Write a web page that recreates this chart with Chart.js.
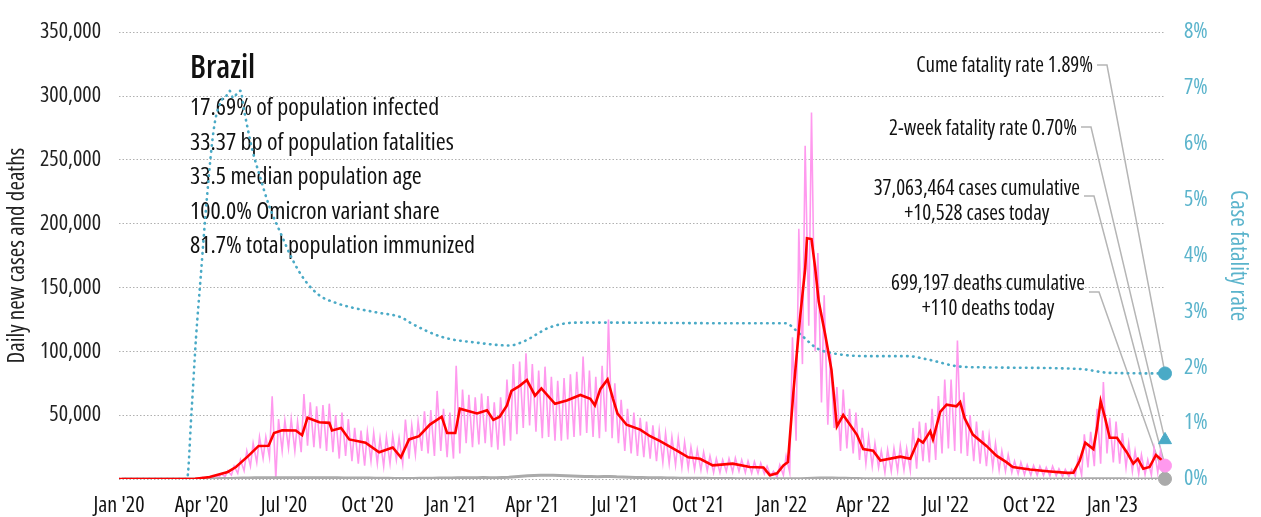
<!DOCTYPE html>
<html>
<head>
<meta charset="utf-8">
<title>Brazil</title>
<script src="https://cdn.jsdelivr.net/npm/chart.js@4.4.1/dist/chart.umd.min.js"></script>
<style>
  html, body { margin: 0; padding: 0; background: #fff; }
  #wrap { width: 1261px; height: 517px; }
</style>
</head>
<body>
<div id="wrap"><canvas id="chart" width="1261" height="517"></canvas></div>
<script>
// ---- data ----
const startDate = '2020-01-01';
const lastDate = '2023-02-28';

const tickDates = ['2020-01-01', '2020-04-01', '2020-07-01', '2020-10-01', '2021-01-01', '2021-04-01',
  '2021-07-01', '2021-10-01', '2022-01-01', '2022-04-01', '2022-07-01', '2022-10-01', '2023-01-01'];
const tickLabels = ["Jan '20", "Apr '20", "Jul '20", "Oct '20", "Jan '21", "Apr '21",
  "Jul '21", "Oct '21", "Jan '22", "Apr '22", "Jul '22", "Oct '22", "Jan '23"];

// daily new cases, one weekly high (Thu) and one weekly low (Mon) per week
const caseHighs = [
  0, 0, 0, 0, 0, 0, 0, 0, 0, 0,
  0, 100, 350, 1200, 1900, 2300, 4000, 6500, 10000, 15000,
  22000, 28000, 33000, 33000, 64800, 47000, 46000, 47000, 45000, 66600,
  60000, 57000, 58000, 59000, 50000, 52000, 47000, 40000, 38000, 37000,
  36000, 32000, 33000, 34000, 32000, 46500, 42000, 45000, 53000, 54000,
  69000, 55000, 52000, 88700, 70000, 66000, 64000, 67000, 65000, 60000,
  64000, 78000, 90000, 92000, 98400, 90000, 85000, 88000, 80000, 77000,
  79000, 82000, 84000, 96000, 85000, 80000, 88700, 125000, 75000, 62000,
  55000, 52000, 48000, 45000, 42000, 38000, 36000, 33000, 32000, 29000,
  25000, 23000, 21000, 18000, 16000, 15000, 16000, 16500, 15000, 14000,
  13500, 12500, 10000, 6000, 11000, 18000, 111000, 196000, 261000, 287000,
  177000, 144000, 98000, 72000, 70000, 55000, 52000, 40000, 33000, 28000,
  22000, 23000, 24000, 26000, 24000, 40000, 45000, 44000, 55000, 65000,
  78000, 78000, 108500, 68000, 50000, 45000, 38000, 34000, 28000, 22000,
  19000, 14000, 13000, 11000, 10500, 10000, 9000, 10000, 8000, 7500,
  7500, 16000, 35000, 37000, 55000, 76000, 48000, 45000, 36000, 28000,
  22000, 19000, 15000, 24000, 22000
];
const caseLows = [
  0, 0, 0, 0, 0, 0, 0, 0, 0, 0,
  0, 0, 100, 500, 900, 1100, 1800, 3000, 4500, 6500,
  10000, 13000, 16000, 17000, 0, 22000, 24000, 22000, 21000, 26000,
  25000, 24000, 22000, 21000, 16000, 18000, 14000, 12000, 10500, 14000,
  12000, 10000, 12000, 15000, 12000, 16000, 19000, 22000, 20000, 18000,
  22000, 17000, 16000, 20000, 28000, 25000, 27000, 28000, 25000, 23000,
  26000, 30000, 35000, 40000, 42000, 37000, 32000, 33000, 30000, 30000,
  31000, 33000, 34000, 36000, 33000, 32000, 37000, 32000, 28000, 22000,
  20000, 18000, 17000, 16000, 14000, 13000, 12000, 11000, 9000, 8500,
  7500, 7000, 6500, 5000, 5000, 6000, 5500, 6000, 5000, 4500,
  4500, 4000, 2500, 1500, 3000, 5000, 30000, 90000, 120000, 100000,
  60000, 42600, 40000, 22000, 24000, 20000, 15000, 12000, 10000, 9000,
  5000, 6000, 6500, 7000, 6500, 8000, 14000, 13000, 15000, 20000,
  24000, 22000, 20000, 18000, 14000, 12000, 10000, 9000, 7000, 6000,
  5000, 4000, 3500, 3000, 3000, 2800, 2500, 2500, 2000, 2000,
  2200, 3000, 9000, 10000, 12000, 20000, 13000, 12000, 9000, 6000,
  4000, 3500, 3000, 5000, 6000
];

// 7-day average of new cases (day since Jan 1 2020, value)
const avgDays = [0, 70, 84, 91, 100, 110, 120, 129, 143, 154, 165, 171, 180, 195, 202, 208, 221, 232, 235, 245,
  254, 272, 287, 302, 311, 320, 331, 343, 356, 362, 371, 376, 395, 406, 413, 420, 428, 433, 442, 450,
  459, 466, 481, 494, 509, 520, 525, 531, 539, 545, 550, 560, 575, 586, 597, 616, 628, 641, 655, 677,
  696, 711, 718, 726, 733, 738, 744, 751, 757, 759, 764, 768, 772, 779, 786, 792, 799, 814, 821, 832,
  840, 862, 873, 882, 887, 895, 898, 906, 913, 924, 928, 933, 942, 957, 968, 979, 986, 1005, 1024, 1046,
  1053, 1060, 1066, 1075, 1079, 1083, 1088, 1093, 1101, 1112, 1119, 1124, 1130, 1137, 1144, 1154];
const avgCases = [0, 0, 200, 800, 1500, 3500, 5500, 9400, 18300, 25900, 26000, 36000, 38100, 38000, 34300, 48000, 44500, 44000, 38000, 40000,
  31000, 28500, 20900, 24700, 17000, 31000, 33500, 42600, 48800, 36000, 36000, 55100, 51300, 53900, 46300, 48800, 57700, 69100, 73000, 77500,
  65300, 70900, 58900, 61500, 65800, 62800, 57700, 70400, 78000, 62800, 51300, 42500, 38700, 33500, 29700, 22100, 17000, 15800, 10700, 12000,
  9400, 9000, 3000, 4500, 10700, 13200, 67900, 123800, 164500, 188600, 188000, 165700, 139000, 113600, 85600, 41200, 50100, 34800, 23400, 22100,
  14500, 17500, 15800, 31000, 28500, 37400, 31000, 52600, 58200, 57000, 60200, 47500, 34800, 25900, 18300, 13200, 9400, 7400, 6100, 4800,
  5000, 14500, 28500, 23400, 39900, 61000, 47500, 32300, 32300, 20800, 12000, 15800, 8100, 9400, 18800, 12500];

// daily deaths, weekly
const deathsWeekly = [
  0, 0, 0, 0, 0, 0, 0, 0, 0, 0, 0,
  5, 30, 80, 150, 200, 350, 450, 600, 700, 800, 900, 1000, 1000,
  1050, 1000, 1050, 1000, 1050, 1000, 1050, 1000, 1000, 950,
  900, 850, 850, 800, 750,
  700, 650, 600, 500, 450, 400,
  350, 400, 500, 550,
  650, 700, 750, 750,
  1000, 1050, 1050, 1050, 1100,
  1050, 1050, 1150, 1300,
  1700, 2100, 2600, 2800, 3000,
  3000, 2900, 2800, 2500,
  2300, 2100, 2000, 1900, 1850,
  1900, 2000, 1700, 1600,
  1400, 1250, 1150, 1050, 950,
  900, 800, 700, 650,
  600, 550, 520, 500,
  450, 400, 360, 330,
  280, 250, 230, 220, 200,
  120, 100, 100, 110,
  150, 250, 450, 600,
  800, 850, 800, 650,
  500, 400, 300, 250,
  200, 150, 120, 110,
  110, 110, 110, 120, 130,
  150, 180, 220, 250,
  270, 280, 250, 230,
  200, 180, 160, 150, 140,
  120, 100, 80, 70,
  60, 55, 50, 50,
  50, 45, 60, 90,
  110, 130, 140, 150,
  140, 120, 100, 90,
  80, 70, 70, 60, 60
];

// cumulative case fatality rate, percent
const cfrDays = [0, 75, 80, 85, 90, 97, 105, 114, 118, 122, 126, 130, 134, 138, 147, 156, 165, 180, 191, 205,
  221, 240, 257, 285, 312, 321, 357, 395, 431, 446, 476, 505, 542, 652, 735, 751, 770, 788, 825, 869,
  895, 924, 950, 1060, 1093, 1154];
const cfrValues = [0, 0, 1.2, 2.54, 3.59, 5.04, 6.31, 6.8, 6.85, 6.95, 6.82, 6.9, 6.95, 6.6, 5.9, 5.39, 4.92, 4.34, 3.94, 3.56,
  3.29, 3.15, 3.07, 2.98, 2.89, 2.8, 2.54, 2.44, 2.39, 2.46, 2.72, 2.8, 2.8, 2.79, 2.79, 2.6, 2.34, 2.25, 2.2, 2.2,
  2.13, 2.02, 2.0, 1.97, 1.9, 1.89];

const casesToday = 10528;
const deathsToday = 110;
const cumeFatality = 1.89;
const twoWeekFatality = 0.70;

const countryName = 'Brazil';
const statLines = [
  '17.69% of population infected',
  '33.37 bp of population fatalities',
  '33.5 median population age',
  '100.0% Omicron variant share',
  '81.7% total population immunized'
];
const rightLabels = [
  ['Cume fatality rate 1.89%'],
  ['2-week fatality rate 0.70%'],
  ['37,063,464 cases cumulative', '+10,528 cases today'],
  ['699,197 deaths cumulative', '+110 deaths today']
];

// ---- build ----
const FONT = "'Open Sans', 'Roboto', sans-serif";
const DAY = 86400000;
const dayOf = d => Math.round((Date.parse(d) - Date.parse(startDate)) / DAY);
const lastDay = dayOf(lastDate);
const tickDays = tickDates.map(dayOf);

const pinkPoints = [];
caseHighs.forEach((h, w) => {
  pinkPoints.push({ x: 7 * w + 1, y: h });
  pinkPoints.push({ x: 7 * w + 5, y: caseLows[w] });
});
pinkPoints.push({ x: lastDay, y: casesToday });

const avgPoints = avgDays.map((d, i) => ({ x: d, y: avgCases[i] }));
const deathPoints = deathsWeekly.map((v, w) => ({ x: 7 * w + 3, y: v }));
deathPoints.push({ x: lastDay, y: deathsToday });
const cfrPoints = cfrDays.map((d, i) => ({ x: d, y: cfrValues[i] }));

const TEAL = '#4aaac6';
const PINK = '#ff99ee';
const GRAY = '#aaaaaa';

// the chart uses a condensed face everywhere
const canvas = document.getElementById('chart');
const ctx = canvas.getContext('2d');
const fontDesc = Object.getOwnPropertyDescriptor(CanvasRenderingContext2D.prototype, 'font');
Object.defineProperty(ctx, 'font', {
  get() { return fontDesc.get.call(this); },
  set(v) { fontDesc.set.call(this, v); this.fontStretch = 'condensed'; }
});

// text blocks and leader lines
const annotations = {
  id: 'annotations',
  beforeDatasetsDraw(chart) {
    const c = chart.ctx;
    const x = chart.scales.x, y = chart.scales.y, y2 = chart.scales.y2;
    c.save();
    c.fillStyle = '#111';
    c.textAlign = 'left';
    c.textBaseline = 'alphabetic';
    c.font = '600 32px ' + FONT;
    c.fillText(countryName, 190, 78);
    c.font = '24px ' + FONT;
    statLines.forEach((t, i) => c.fillText(t, 190, 115 + i * 34.5));

    const endX = x.getPixelForValue(lastDay);
    const targets = [
      y2.getPixelForValue(cumeFatality),
      y2.getPixelForValue(twoWeekFatality),
      y.getPixelForValue(casesToday),
      y.getPixelForValue(deathsToday)
    ];
    const spots = [
      { right: 1093, base: 72, lineY: 65 },
      { right: 1077, base: 135, lineY: 127 },
      { right: 1080, base: 195, lineY: 196 },
      { right: 1085, base: 290, lineY: 292 }
    ];
    c.font = '21px ' + FONT;
    rightLabels.forEach((lines, i) => {
      const s = spots[i];
      const w0 = c.measureText(lines[0]).width;
      const cx = s.right - w0 / 2;
      c.textAlign = 'center';
      lines.forEach((t, j) => c.fillText(t, cx, s.base + j * 25));
      c.strokeStyle = '#b5b5b5';
      c.lineWidth = 1.5;
      c.beginPath();
      c.moveTo(s.right + 4, s.lineY);
      c.lineTo(s.right + 14, s.lineY);
      c.lineTo(endX, targets[i]);
      c.stroke();
    });
    c.restore();
  }
};

new Chart(ctx, {
  type: 'line',
  data: {
    datasets: [
      { data: [{ x: lastDay, y: cumeFatality }], yAxisID: 'y2', showLine: false, pointStyle: 'circle',
        pointRadius: 6.5, backgroundColor: TEAL, borderColor: TEAL, order: 0, clip: false },
      { data: [{ x: lastDay, y: twoWeekFatality }], yAxisID: 'y2', showLine: false, pointStyle: 'triangle',
        pointRadius: 7.5, backgroundColor: TEAL, borderColor: TEAL, order: 0, clip: false },
      { data: [{ x: lastDay, y: casesToday }], yAxisID: 'y', showLine: false, pointStyle: 'circle',
        pointRadius: 6.5, backgroundColor: PINK, borderColor: PINK, order: 0, clip: false },
      { data: [{ x: lastDay, y: deathsToday }], yAxisID: 'y', showLine: false, pointStyle: 'circle',
        pointRadius: 6.5, backgroundColor: GRAY, borderColor: GRAY, order: 0, clip: false },
      { data: avgPoints, yAxisID: 'y', borderColor: '#ff0000', borderWidth: 2.6, pointRadius: 0,
        tension: 0, order: 1 },
      { data: cfrPoints, yAxisID: 'y2', borderColor: TEAL, borderWidth: 2.6, borderDash: [0.5, 5.5],
        borderCapStyle: 'round', pointRadius: 0, cubicInterpolationMode: 'monotone', order: 2 },
      { data: deathPoints, yAxisID: 'y', borderColor: GRAY, borderWidth: 3, pointRadius: 0, order: 3 },
      { data: pinkPoints, yAxisID: 'y', borderColor: PINK, borderWidth: 1.6, pointRadius: 0, order: 4 }
    ]
  },
  options: {
    responsive: false,
    animation: false,
    events: [],
    layout: { padding: { top: 20, left: 0, right: 0, bottom: 0 } },
    plugins: { legend: { display: false }, tooltip: { enabled: false } },
    scales: {
      x: {
        type: 'linear',
        min: 0,
        max: lastDay,
        grid: { display: false },
        border: { display: false },
        afterBuildTicks: scale => { scale.ticks = tickDays.map(v => ({ value: v })); },
        afterFit: scale => { scale.height = 38; },
        ticks: {
          autoSkip: false,
          maxRotation: 0,
          padding: 6,
          color: '#111',
          font: { size: 22, family: FONT },
          callback: (v, i) => tickLabels[i]
        }
      },
      y: {
        position: 'left',
        min: 0,
        max: 350000,
        afterFit: scale => { scale.width = 119; },
        grid: { color: '#b0b0b0', lineWidth: 1, drawTicks: false },
        border: { display: false, dash: [1.5, 2] },
        ticks: {
          stepSize: 50000,
          padding: 18,
          color: '#222',
          font: { size: 22, family: FONT },
          callback: v => (v === 0 ? '' : v.toLocaleString('en-US'))
        },
        title: {
          display: true,
          text: 'Daily new cases and deaths',
          color: '#222',
          font: { size: 23, family: FONT },
          padding: { top: 4, bottom: 0 }
        }
      },
      y2: {
        position: 'right',
        min: 0,
        max: 8,
        afterFit: scale => { scale.width = 96; },
        grid: { display: false, drawTicks: false },
        border: { display: false },
        ticks: {
          stepSize: 1,
          padding: 19,
          color: '#5bb4cc',
          font: { size: 22, family: FONT },
          callback: v => v + '%'
        },
        title: {
          display: true,
          text: 'Case fatality rate',
          color: '#5bb4cc',
          font: { size: 23, family: FONT },
          padding: { top: 10, bottom: 0 }
        }
      }
    }
  },
  plugins: [annotations]
});
</script>
</body>
</html>
